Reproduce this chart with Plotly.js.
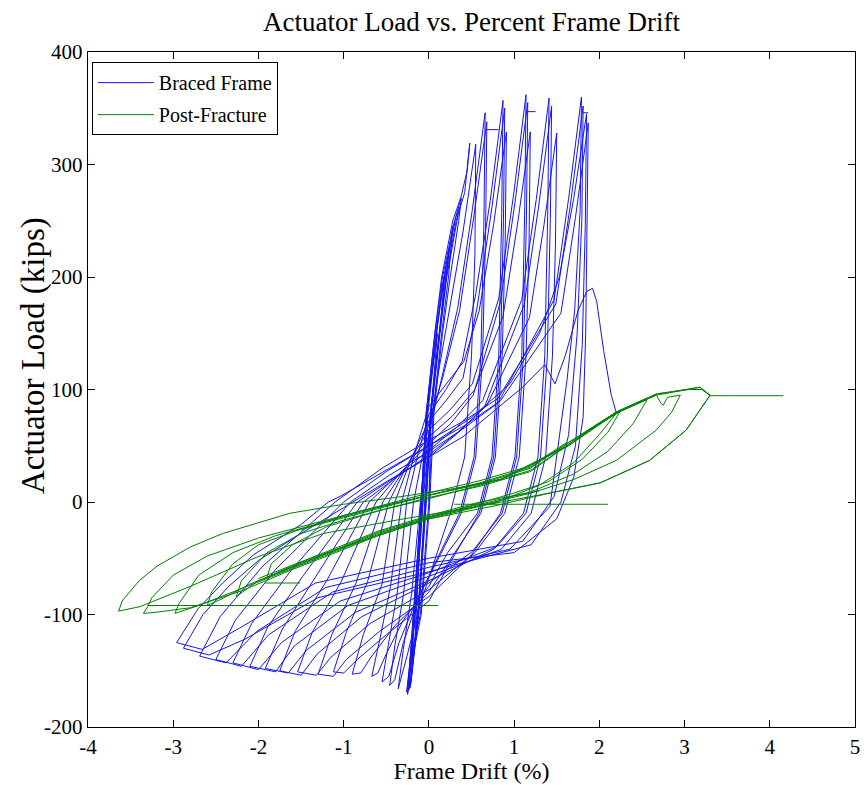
<!DOCTYPE html>
<html>
<head>
<meta charset="utf-8">
<script src="https://cdn.plot.ly/plotly-3.0.1.min.js"></script>
<style>html,body{margin:0;padding:0;background:#fff;}#chart{width:867px;height:785px;}</style>
</head>
<body>
<div id="chart"></div>
<script>
// ---------- Braced Frame (blue) ----------
const bracedElasticX = [0,0.025,0.10,-0.025,-0.085,-0.15,-0.16,-0.125,-0.035,0.025,0.125,0.19,0.15,0.06,-0.03,-0.09,-0.175,-0.20,-0.21,-0.18,-0.13,-0.04,0.02,0.12,0.20,0.24,0.20,0.08,-0.02,-0.08,-0.17,-0.23,-0.235,-0.20,-0.12,-0.03,0.03,0.13,0.21,0.33,0.36,0.30,0.16,0.07,-0.03,-0.09,-0.18,-0.245,-0.25,
  -0.19,-0.10,0.0,0.05,0.15,0.23,0.28,0.24,0.12,0.02,-0.05,-0.12,-0.21,-0.22,
  -0.17,-0.09,0.01,0.06,0.16,0.25,0.35,0.38,0.32,0.18,0.09,-0.01,-0.07,-0.16,-0.24,
  -0.21,-0.13,-0.04,0.02,0.12,0.20,0.32,0.42,0.48,0.45,0.38,0.28,0.15,0.07,-0.03,-0.09,-0.18,-0.23,-0.26];
const bracedElasticY = [0,80,150,80,0,-100,-118,-100,0,80,150,205,190,130,80,0,-100,-150,-158,-130,-100,0,80,150,200,225,210,150,80,0,-100,-160,-166,-150,-100,0,80,150,200,250,262,250,200,150,80,0,-100,-168,-171,
  -130,-100,0,80,150,200,245,225,150,80,0,-100,-160,-165,
  -130,-100,0,80,150,200,250,270,255,200,150,80,0,-100,-168,
  -160,-100,0,80,150,200,250,275,319,295,272,250,200,150,80,0,-100,-150,-169];

const bracedCycles1X = [
  -0.22,-0.15,-0.07,0.0,0.1,0.25,0.40,0.55, 0.54,0.50,0.42,0.25,0.05,-0.12,-0.25,-0.36,
  -0.30,-0.20,-0.10,-0.05,0,0.15,0.34,0.51,0.66, 0.645,0.61,0.53,0.36,0.1,-0.12,-0.3,-0.40,-0.46,
  -0.40,-0.30,-0.18,-0.09,0,0.16,0.36,0.53,0.68, 0.665,0.63,0.55,0.38,0.1,-0.15,-0.35,-0.47,-0.55,
  -0.47,-0.37,-0.26,-0.13,0,0.2,0.39,0.55,0.72,0.87, 0.855,0.82,0.74,0.57,0.22,0,-0.3,-0.5,-0.6,-0.67,
  -0.57,-0.45,-0.32,-0.16,0,0.2,0.41,0.59,0.76,0.91, 0.895,0.86,0.78,0.61,0.26,0,-0.4,-0.68,-0.8,-0.90,
  -0.77,-0.55,-0.40,-0.20,0,0.2,0.40,0.57,0.74,0.89, 0.875,0.84,0.76,0.59,0.24,0,-0.5,-0.84,-1.0,-1.12];
const bracedCycles1Y = [
  -140,-90,0,55,110,175,240,318, 220,130,40,-10,-55,-95,-135,-166,
  -131,-80,0,30,62,110,173,260,346, 246,130,40,-10,-50,-85,-125,-158,-163,
  -128,-83,0,35,70,110,170,255,338, 238,130,40,-10,-52,-88,-125,-155,-160,
  -125,-80,0,42,78,100,125,185,268,357, 257,130,40,-10,-45,-75,-105,-135,-152,-155,
  -120,-75,0,45,85,105,125,170,247,329, 229,130,40,-10,-50,-80,-110,-138,-152,-153,
  -118,-73,0,40,72,90,110,175,262,350, 250,130,40,-10,-55,-88,-118,-140,-152,-151];

const bracedCycles2X = [
  -0.97,-0.72,-0.47,-0.24,0,0.25,0.51,0.82,0.99,1.14, 1.125,1.09,1.01,0.84,0.49,0,-0.58,-0.97,-1.12,-1.30,
  -1.14,-0.86,-0.54,-0.27,0,0.27,0.54,0.87,1.04,1.19, 1.175,1.14,1.06,0.89,0.54,0,-0.69,-1.15,-1.32,-1.54,
  -1.37,-1.03,-0.62,-0.31,0,0.26,0.52,0.84,1.01,1.16, 1.145,1.11,1.03,0.86,0.51,0,-0.79,-1.31,-1.5,-1.75,
  -1.57,-1.2,-0.7,-0.35,0,0.32,0.63,1.09,1.26,1.41, 1.395,1.36,1.28,1.11,0.76,0,-0.86,-1.44,-1.65,-1.92,
  -1.72,-1.34,-0.77,-0.38,0,0.34,0.68,1.18,1.35,1.50, 1.485,1.45,1.37,1.2,0.85,0,-0.95,-1.58,-1.8,-2.10,
  -1.89,-1.48,-0.84,-0.42,0,0.32,0.65,1.12,1.29,1.44, 1.425,1.39,1.31,1.14,0.79,0,-1.04,-1.73,-2.0,-2.30];
const bracedCycles2Y = [
  -116,-71,0,35,64,82,105,181,271,362, 262,130,40,-10,-48,-84,-115,-140,-155,-153,
  -118,-73,0,31,58,76,100,165,247,329, 229,130,40,-10,-45,-78,-108,-138,-154,-151,
  -116,-71,0,28,52,70,95,178,266,355, 255,130,40,-10,-44,-72,-102,-135,-154,-150,
  -115,-70,0,25,46,66,90,180,269,359, 259,130,40,-10,-42,-70,-98,-132,-152,-148,
  -113,-68,0,22,42,62,86,164,246,328, 228,130,40,-10,-42,-66,-92,-128,-151,-146,
  -111,-66,0,21,40,60,84,176,264,352, 252,130,40,-10,-40,-63,-88,-125,-149,-143];

const bracedCycles3X = [
  -2.08,-1.64,-0.92,-0.46,0,0.4,0.81,1.47,1.64,1.79, 1.775,1.71,1.62,1.42,0.95,0,-1.13,-1.88,-2.2,-2.50,
  -2.27,-1.8,-1.0,-0.5,0,0.42,0.84,1.55,1.72,1.87, 1.86,1.84,1.81,1.70,1.5,1.0,0,-1.21,-2.02,-2.38,-2.69,
  -2.45,-1.95,-1.1,-0.55,0,0.41,0.81,1.49,1.66,1.81, 1.795,1.74,1.64,1.47,1.1,0,-1.33,-2.22,-2.66,-2.96,
  -2.71,-2.42,-2.06,-1.5,-1.18,-1.04,-0.5,0,0.5,0.95,1.3,1.53,1.70,1.85, 1.835,1.80,1.72,1.55,1.2,0,-1.3,-2.16,-2.58,-2.88,
  -2.65,-2.35,-2.0,-1.5,-1.0,-0.5,0,0.4,0.75,1.1,1.36,1.42,1.48,1.6,1.75,1.85,1.92,1.97,2.05,2.14,2.2];
const bracedCycles3Y = [
  -108,-63,0,24,45,65,88,180,270,360, 260,170,108,-4,-42,-58,-80,-118,-146,-140,
  -105,-60,0,27,50,68,90,168,253,337, 250,150,75,22,-15,-45,-54,-76,-115,-143,-137,
  -102,-57,0,30,55,72,92,176,264,352, 252,150,60,5,-35,-50,-72,-112,-131,-125,
  -95,-72,-47,-20,0,5,28,50,75,105,150,200,270,345, 245,140,50,0,-38,-62,-85,-122,-136,-130,
  -100,-75,-52,-28,-5,18,40,58,80,102,122,113,105,130,170,187,190,178,135,95,79];

const bracedHoldX = [null,0.68,0.82,null,1.15,1.25,null,1.81,1.87];
const bracedHoldY = [null,331,331,null,347,347,null,346,346];

// ---------- Post-Fracture (green) ----------
const postFracAX = [2.2,2.0,1.7,1.3,0.8,0,-0.8,-1.35,-1.7,-1.9,
  -1.85,-1.6,-1.2,-0.6,0,0.6,1.19,1.62,2.0,2.24,
  2.1,1.8,1.4,1.0,0.5,0,-0.6,-1.16,-1.6,-2.0,-2.26,
  -2.2,-1.9,-1.5,-1.0,-0.5,0,0.6,1.19,1.62,2.2,2.56];
const postFracAY = [79,60,35,15,0,-15,-35,-49,-60,-67,
  -55,-38,-22,-8,3,15,28,50,70,80,
  62,38,18,8,-3,-14,-28,-45,-58,-70,-84,
  -70,-45,-28,-16,-6,4,14,27,50,79,91];

const postFracBX = [2.4,2.1,1.7,1.2,0.6,0,-0.6,-1.16,-1.6,-2.1,-2.4,-2.6,
  -2.55,-2.3,-2.0,-1.5,-1.0,-0.5,0,0.6,1.19,1.62,2.2,2.55,2.67,2.72,2.75,2.8,2.95,
  2.85,2.67,2.20,1.7,1.2,0.6,0,-0.6,-1.16,-1.6,-2.2,-2.7,-2.98,
  -2.93,-2.7,-2.3,-1.8,-1.2,-0.6,0,0.6,1.19,1.62,2.2,2.67,3.0,3.18,3.3];
const postFracBY = [70,45,25,9,-2,-13,-27,-44,-58,-73,-85,-92,
  -80,-55,-38,-24,-14,-4,6,16,30,52,80,92,95,88,86,93,95,
  80,64,37,20,8,-3,-14,-29,-46,-59,-77,-92,-99,
  -90,-65,-45,-30,-17,-5,6,17,31,52,80,96,100,102,95];

const postFracCX = [3.02,2.59,2.01,1.42,0.8,0,-0.6,-1.16,-1.6,-2.2,-2.8,-3.2,-3.35,-3.3,
  -3.25,-3.0,-2.6,-2.0,-1.4,-0.8,0,0.84,1.62,2.2,2.67,3.05,3.2,3.3,
  3.02,2.59,2.01,1.42,0.5,-0.3,-1.24,-2.02,-2.80,-3.39,-3.64,
  -3.6,-3.4,-3.19,-2.8,-2.42,-1.63,-1.0,-0.4,0.3,0.84,1.62,2.2,2.67,3.18,3.3,3.6,4.16];
const postFracCY = [64,37,17,8,-3,-15,-30,-47,-60,-79,-94,-98,-99,-93,
  -85,-65,-48,-32,-20,-8,6,20,50,80,96,100,100,95,
  64,37,17,8,-5,-15,-28,-49,-75,-93,-97,
  -88,-70,-57,-40,-28,-10,-2,4,12,20,49,79,95,102,94.5,94.5,94.5];

const postFracBandX = [null,1.3,0.6,0,-0.6,-1.16,-1.6,-2.0,null,-1.5,-1.0,-0.5,0,0.6,1.19,1.62];
const postFracBandY = [null,10,0,-12,-26,-43,-56,-68,null,-25,-12,-2,8,19,32,53];

const postFracHoldX = [null,-3.3,0.11,null,0.3,2.1,null,-1.92,-1.51];
const postFracHoldY = [null,-92,-92,null,-2,-2,null,-72,-72];

const seriesNames = ['Braced Frame','Post-Fracture'];
const tickValsX = [-4,-3,-2,-1,0,1,2,3,4,5];
const tickLabelsX = ['-4','-3','-2','-1','0','1','2','3','4','5'];
const tickValsY = [-200,-100,0,100,200,300,400];
const tickLabelsY = ['-200','-100','0','100','200','300','400'];

const blueX = [].concat(bracedElasticX, bracedCycles1X, bracedCycles2X, bracedCycles3X, bracedHoldX);
const blueY = [].concat(bracedElasticY, bracedCycles1Y, bracedCycles2Y, bracedCycles3Y, bracedHoldY);
const greenX = [].concat(postFracAX, postFracBX, postFracCX, postFracBandX, postFracHoldX);
const greenY = [].concat(postFracAY, postFracBY, postFracCY, postFracBandY, postFracHoldY);

const FONT = 'Liberation Serif, Times New Roman, serif';

const traces = [
  {x: blueX, y: blueY, type: 'scatter', mode: 'lines', name: seriesNames[0], legendgroup: 'a',
   line: {color: 'rgb(20,20,245)', width: 1}, connectgaps: false},
  {x: greenX, y: greenY, type: 'scatter', mode: 'lines', name: seriesNames[1], legendgroup: 'b',
   line: {color: 'rgb(0,128,0)', width: 1}, connectgaps: false}
];

const axisCommon = {
  showgrid: false, zeroline: false, showline: true, linecolor: '#000', linewidth: 1.3,
  mirror: 'ticks', ticks: 'inside', ticklen: 7, tickwidth: 1, tickcolor: '#000',
  tickfont: {family: FONT, size: 21, color: '#000'}
};

const layout = {
  width: 867, height: 785,
  margin: {l: 88, r: 12, t: 52, b: 58},
  paper_bgcolor: '#fff', plot_bgcolor: '#fff',
  font: {family: FONT, color: '#000'},
  title: {text: 'Actuator Load vs. Percent Frame Drift', font: {family: FONT, size: 27, color: '#000'},
          x: 0.5, xref: 'paper', xanchor: 'center', y: 0.972, yanchor: 'middle'},
  xaxis: Object.assign({}, axisCommon, {range: [-4, 5], tickvals: tickValsX, ticktext: tickLabelsX,
          title: {text: 'Frame Drift (%)', font: {family: FONT, size: 24, color: '#000'}, standoff: 4}}),
  yaxis: Object.assign({}, axisCommon, {range: [-200, 400], tickvals: tickValsY, ticktext: tickLabelsY}),
  annotations: [{text: 'Actuator Load (kips)', xref: 'paper', yref: 'paper', x: -0.0717, y: 0.5496,
                 xanchor: 'center', yanchor: 'middle', textangle: -90, showarrow: false,
                 font: {family: FONT, size: 33, color: '#000'}}],
  showlegend: true,
  legend: {x: 0.005, y: 0.985, xanchor: 'left', yanchor: 'top', bgcolor: '#fff', bordercolor: '#000',
           borderwidth: 1, font: {family: FONT, size: 20, color: '#000'}, traceorder: 'grouped',
           tracegroupgap: 3, itemwidth: 56}
};

Plotly.newPlot('chart', traces, layout, {displayModeBar: false, staticPlot: true});
</script>
</body>
</html>
